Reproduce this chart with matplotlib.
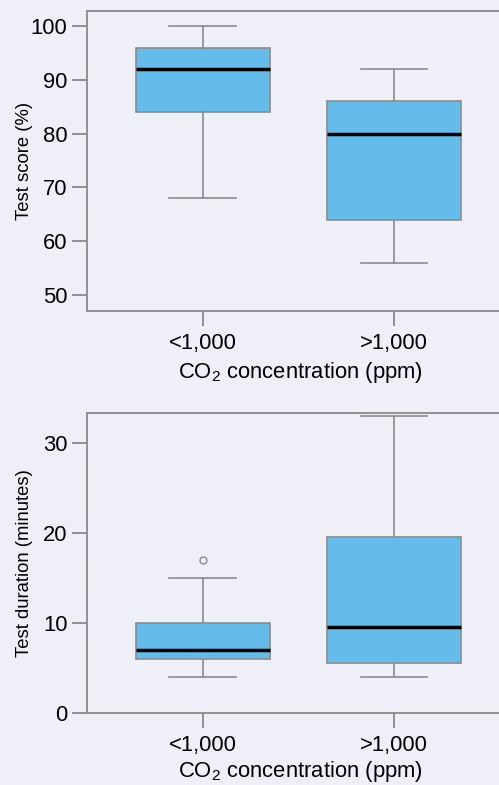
import matplotlib
matplotlib.use('Agg')
import matplotlib.pyplot as plt

plt.rcParams['font.family'] = ['Liberation Sans', 'DejaVu Sans']
plt.rcParams['mathtext.fontset'] = 'custom'
plt.rcParams['mathtext.rm'] = 'Liberation Sans'

# group labels
groups = ['<1,000', '>1,000']

# test score (%) box stats, one entry per group
score_whislo = [68, 56]
score_q1 = [84, 64]
score_med = [92, 80]
score_q3 = [96, 86]
score_whishi = [100, 92]
score_fliers = [[], []]

# test duration (minutes) box stats
dur_whislo = [4, 4]
dur_q1 = [6, 5.5]
dur_med = [7, 9.5]
dur_q3 = [10, 19.5]
dur_whishi = [15, 33]
dur_fliers = [[17], []]

bg = '#eff0f7'
box_color = '#63bce9'
edge = '#8c8c8c'
spine_col = '#8a8a8a'


def make_stats(lo, q1, med, q3, hi, fl):
    stats = []
    for i in range(len(lo)):
        stats.append({'whislo': lo[i], 'q1': q1[i], 'med': med[i],
                      'q3': q3[i], 'whishi': hi[i], 'fliers': fl[i],
                      'label': groups[i]})
    return stats


def draw(ax, stats, ylabel, ylim, yticks, xlab_y):
    ax.set_facecolor(bg)
    ax.bxp(stats, positions=[0, 1], widths=0.7, patch_artist=True,
           boxprops=dict(facecolor=box_color, edgecolor=edge, linewidth=1.2),
           medianprops=dict(color='black', linewidth=2.5),
           whiskerprops=dict(color=edge, linewidth=1.2),
           capprops=dict(color=edge, linewidth=1.2),
           capwidths=0.35,
           flierprops=dict(marker='o', markerfacecolor='none',
                           markeredgecolor=edge, markersize=5))
    ax.set_xlim(-0.607, 1.55)
    ax.set_ylim(*ylim)
    ax.set_yticks(yticks)
    ax.set_xticks([0, 1])
    ax.set_xticklabels(groups)
    ax.spines['right'].set_visible(False)
    for s in ['left', 'top', 'bottom']:
        ax.spines[s].set_color(spine_col)
        ax.spines[s].set_linewidth(1.3)
    ax.tick_params(axis='both', length=10.5, width=1.3, color=spine_col,
                   labelsize=15.8, labelcolor='black')
    ax.tick_params(axis='y', pad=3.5)
    ax.tick_params(axis='x', pad=5)
    ax.set_ylabel(ylabel, fontsize=13.3)
    ax.yaxis.set_label_coords(-0.131, 0.5)
    ax.set_xlabel(r'CO$_\mathrm{2}$ concentration (ppm)', fontsize=15.8)
    ax.xaxis.set_label_coords(0.517, xlab_y)


fig = plt.figure(figsize=(4.99, 7.85), dpi=100)
fig.patch.set_facecolor(bg)

ax1 = fig.add_axes([0.1743, 0.6038, 0.8257, 0.3822])
draw(ax1, make_stats(score_whislo, score_q1, score_med, score_q3, score_whishi, score_fliers),
     'Test score (%)', (47.0, 102.8), [50, 60, 70, 80, 90, 100], -0.162)

ax2 = fig.add_axes([0.1743, 0.0917, 0.8257, 0.3822])
draw(ax2, make_stats(dur_whislo, dur_q1, dur_med, dur_q3, dur_whishi, dur_fliers),
     'Test duration (minutes)', (0, 33.3), [0, 10, 20, 30], -0.153)

fig.savefig('out.png', dpi=100, facecolor=bg)
